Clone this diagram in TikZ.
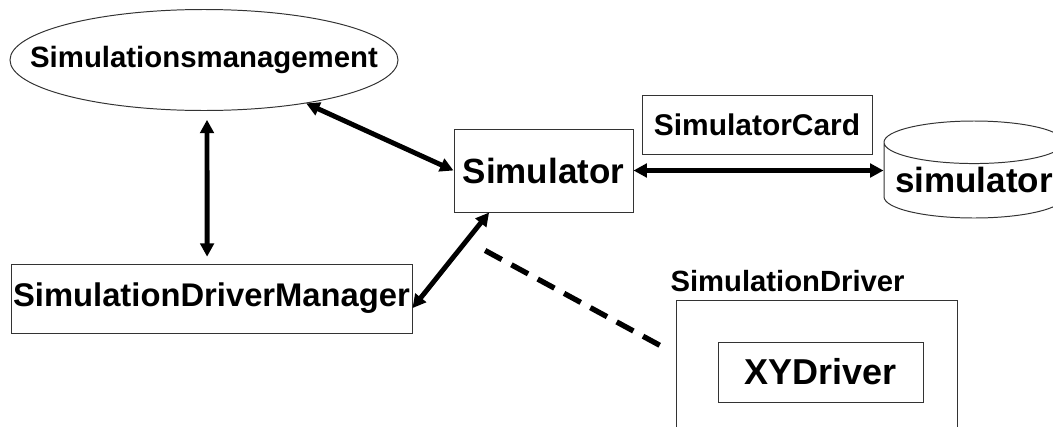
\documentclass[tikz,border=0pt]{standalone}
\usepackage{fontspec}
\setmainfont{Liberation Sans}
\usetikzlibrary{arrows.meta, positioning, shapes.geometric}
\definecolor{edge}{HTML}{333333}
\newcommand{\bsz}[1]{\bfseries\fontsize{#1}{#1}\selectfont}

\begin{document}
\begin{tikzpicture}[
  >={Triangle[length=9.5pt, width=9.6pt]},
  box/.style={
    draw=edge, line width=0.7pt, inner sep=0pt, align=center
  },
  dbl/.style={<->, line width=3.5pt, black},
  dashline/.style={line width=3.8pt, dash pattern=on 13.5pt off 7.8pt, black},
]

% Page frame
\useasboundingbox (0,0) rectangle (26.325,-10.65);

% =============================================
% LEFT: management and driver manager
% =============================================
\node[ellipse, draw=edge, line width=0.7pt, inner ysep=0pt, inner xsep=-0.92cm,
      minimum width=9.7cm, minimum height=2.525cm, font=\bsz{20.9pt}]
  (mgmt) at (5.1,-1.5) {Simulationsmanagement};

\node[box, minimum width=10.025cm, minimum height=1.725cm, font=\bsz{23.3pt}]
  (mgr) at (5.2875,-7.4625) {SimulationDriverManager};

% =============================================
% MIDDLE: Simulator and its card
% =============================================
\node[box, minimum width=4.475cm, minimum height=2.075cm, font=\bsz{24.9pt}]
  (sim) at (13.5875,-4.2625) {Simulator};

\node[box, minimum width=5.75cm, minimum height=1.475cm, font=\bsz{21.3pt}]
  (card) at (18.925,-3.1125) {SimulatorCard};

% =============================================
% RIGHT: store and driver
% =============================================
\node[cylinder, shape border rotate=90, aspect=0.27, draw=edge, line width=0.7pt,
      inner sep=0pt, minimum width=4.5cm, minimum height=2.425cm,
      font=\bsz{24.9pt}, anchor=shape center]
  (db) at (24.35,-4.2375) {simulator};

\node[box, minimum width=7.025cm, minimum height=3.75cm] (drv) at (20.4125,-9.375) {};
\node[font=\bsz{20.8pt}, anchor=base west, inner sep=0pt]
  (drvlab) at ([xshift=-0.13cm, yshift=0.2cm]drv.north west) {SimulationDriver};

\node[box, minimum width=5.125cm, minimum height=1.5cm, font=\bsz{25.6pt}]
  (xy) at (20.5125,-9.3) {XYDriver};

% =============================================
% Connectors
% =============================================
\draw[dbl] ([xshift=0.075cm, yshift=-0.22cm]mgmt.south) -- ([xshift=-0.11cm, yshift=0.17cm]mgr.north);
\draw[dbl] (mgmt.-23) -- (sim.west);
\draw[dbl] ([yshift=-0.24cm]mgr.east) -- ([xshift=-1.36cm]sim.south);
\draw[dbl] (sim.east) -- (sim.east -| db.west);

% dashed link towards the driver
\draw[dashline] ([shift={(-1.46,-0.95)}]sim.south) -- ([shift={(-0.2,-1.25)}]drv.north west);

\end{tikzpicture}
\end{document}
